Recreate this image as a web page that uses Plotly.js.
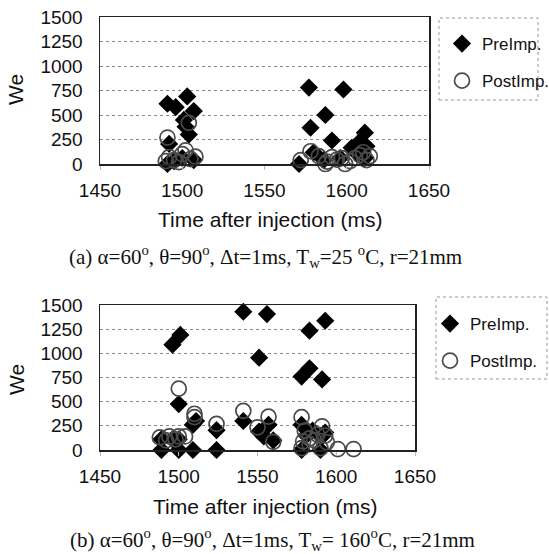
<!DOCTYPE html>
<html>
<head>
<meta charset="utf-8">
<script src="https://cdn.plot.ly/plotly-3.0.1.min.js"></script>
<style>
html,body{margin:0;padding:0;background:#fff;}
#chart{width:549px;height:554px;}
</style>
</head>
<body>
<div id="chart"></div>
<script>
// ---- Data ----
const seriesNames = ["PreImp.", "PostImp."];
const xTickVals = [1450, 1500, 1550, 1600, 1650];
const yTickVals = [0, 250, 500, 750, 1000, 1250, 1500];

// (a) Tw = 25 °C
const topPreX  = [1491, 1496, 1503, 1507, 1501, 1502, 1504, 1492, 1491, 1507, 1500, 1495,
                  1577, 1598, 1587, 1578, 1591, 1611, 1603, 1608, 1571, 1612, 1596, 1586, 1611, 1606, 1580];
const topPreY  = [615, 580, 690, 540, 450, 380, 300, 205, 0, 40, 60, 30,
                  780, 760, 500, 370, 240, 320, 165, 230, 0, 180, 60, 40, 60, 110, 120];
const topPostX = [1491, 1504, 1502, 1508, 1492, 1495, 1490, 1500, 1505, 1498,
                  1572, 1578, 1588, 1594, 1599, 1608, 1612, 1587, 1583, 1602, 1610, 1605, 1591, 1597, 1614];
const topPostY = [270, 420, 140, 75, 70, 40, 30, 100, 50, 20,
                  40, 130, 25, 45, 0, 90, 40, 0, 80, 30, 120, 60, 70, 60, 80];

// (b) Tw = 160 °C
const botPreX  = [1496, 1501, 1500, 1509, 1511, 1524, 1489, 1500, 1509, 1524, 1489, 1496, 1500,
                  1541, 1556, 1551, 1541, 1551, 1557, 1554, 1560,
                  1583, 1593, 1578, 1583, 1591, 1578, 1581, 1591, 1578, 1590, 1585, 1593];
const botPreY  = [1090, 1190, 475, 260, 300, 205, 0, 0, 0, 0, 110, 110, 110,
                  1430, 1406, 955, 300, 190, 260, 140, 100,
                  1234, 1337, 760, 845, 730, 260, 150, 140, 0, 0, 200, 180];
const botPostX = [1488, 1494, 1500, 1504, 1492, 1498,
                  1500, 1510, 1510, 1524, 1541, 1550, 1557, 1560,
                  1578, 1591, 1580, 1583, 1588, 1593, 1578, 1583, 1590, 1586, 1601, 1611, 1579, 1594];
const botPostY = [130, 140, 140, 140, 100, 110,
                  635, 375, 340, 270, 405, 235, 345, 85,
                  340, 245, 200, 120, 160, 150, 20, 60, 20, 100, 10, 10, 90, 80];

const captionA = "(a) α=60<sup>o</sup>, θ=90<sup>o</sup>, Δt=1ms, T<sub>w</sub>=25 <sup>o</sup>C, r=21mm";
const captionB = "(b) α=60<sup>o</sup>, θ=90<sup>o</sup>, Δt=1ms, T<sub>w</sub>= 160<sup>o</sup>C, r=21mm";
const xTitle = "Time after injection (ms)";
const yTitle = "We";

// ---- Styles ----
const W = 549, H = 554;
const px = v => v / W;
const py = v => 1 - v / H;
const sans = "Liberation Sans, Arial, sans-serif";
const serif = "Liberation Serif, Times New Roman, serif";

const preMarker = {symbol: "diamond", size: 14, color: "#000", line: {width: 0}};
const postMarker = {symbol: "circle-open", size: 15, color: "#4a4a4a", line: {width: 1.7, color: "#4a4a4a"}};

const traces = [
  {x: topPreX, y: topPreY, name: seriesNames[0], type: "scatter", mode: "markers",
   marker: preMarker, xaxis: "x", yaxis: "y", legend: "legend", legendgroup: "a1", cliponaxis: false},
  {x: topPostX, y: topPostY, name: seriesNames[1], type: "scatter", mode: "markers",
   marker: postMarker, xaxis: "x", yaxis: "y", legend: "legend", legendgroup: "a2", cliponaxis: false},
  {x: botPreX, y: botPreY, name: seriesNames[0], type: "scatter", mode: "markers",
   marker: preMarker, xaxis: "x2", yaxis: "y2", legend: "legend2", legendgroup: "b1", cliponaxis: false},
  {x: botPostX, y: botPostY, name: seriesNames[1], type: "scatter", mode: "markers",
   marker: postMarker, xaxis: "x2", yaxis: "y2", legend: "legend2", legendgroup: "b2", cliponaxis: false}
];

function xAxis(domain, anchor) {
  return {
    domain: domain, anchor: anchor, range: [1450, 1650], tickvals: xTickVals,
    showgrid: false, zeroline: false, showline: true, mirror: true,
    linecolor: "#222", linewidth: 1.5, ticks: "outside", ticklen: 4, tickcolor: "#bbb",
    ticklabelstandoff: 5, tickfont: {family: sans, size: 19, color: "#111"}, fixedrange: true
  };
}
function yAxis(domain, anchor) {
  return {
    domain: domain, anchor: anchor, range: [0, 1500], tickvals: yTickVals,
    showgrid: true, gridcolor: "#8a8a8a", griddash: "dot", gridwidth: 1,
    zeroline: false, showline: true, mirror: true, linecolor: "#222", linewidth: 1.5,
    ticks: "", ticklabelstandoff: 12, tickfont: {family: sans, size: 19, color: "#111"}, fixedrange: true
  };
}

const legendCommon = {
  xanchor: "left", yanchor: "top", bgcolor: "rgba(0,0,0,0)", borderwidth: 0,
  font: {family: sans, size: 17, color: "#111"}, tracegroupgap: 12, itemclick: false
};

function ann(text, x, y, font, extra) {
  return Object.assign({text: text, xref: "paper", yref: "paper", x: px(x), y: py(y),
    xanchor: "center", yanchor: "middle", showarrow: false, font: font}, extra || {});
}
const titleFont = {family: sans, size: 21, color: "#111"};
const capFont = {family: serif, size: 21, color: "#111"};

const layout = {
  width: W, height: H, margin: {l: 0, r: 0, t: 0, b: 0, autoexpand: false},
  paper_bgcolor: "#fff", plot_bgcolor: "#fff", showlegend: true,
  xaxis: xAxis([px(100), px(429)], "y"),
  yaxis: yAxis([py(164), py(17)], "x"),
  xaxis2: xAxis([px(100), px(415)], "y2"),
  yaxis2: yAxis([py(450), py(305)], "x2"),
  legend: Object.assign({x: px(442), y: py(26)}, legendCommon),
  legend2: Object.assign({x: px(430), y: py(306)}, legendCommon),
  shapes: [
    {type: "rect", xref: "paper", yref: "paper", x0: px(439), x1: px(538), y0: py(100), y1: py(18),
     line: {color: "#999", width: 1, dash: "dot"}},
    {type: "rect", xref: "paper", yref: "paper", x0: px(436), x1: px(547), y0: py(379), y1: py(297),
     line: {color: "#999", width: 1, dash: "dot"}}
  ],
  annotations: [
    ann(yTitle, 16, 90, titleFont, {textangle: -90}),
    ann(xTitle, 270, 219, titleFont),
    ann(captionA, 265, 257, capFont),
    ann(yTitle, 16, 380, titleFont, {textangle: -90}),
    ann(xTitle, 265, 506, titleFont),
    ann(captionB, 272, 539, capFont)
  ]
};

Plotly.newPlot("chart", traces, layout, {displayModeBar: false, staticPlot: true});
</script>
</body>
</html>
